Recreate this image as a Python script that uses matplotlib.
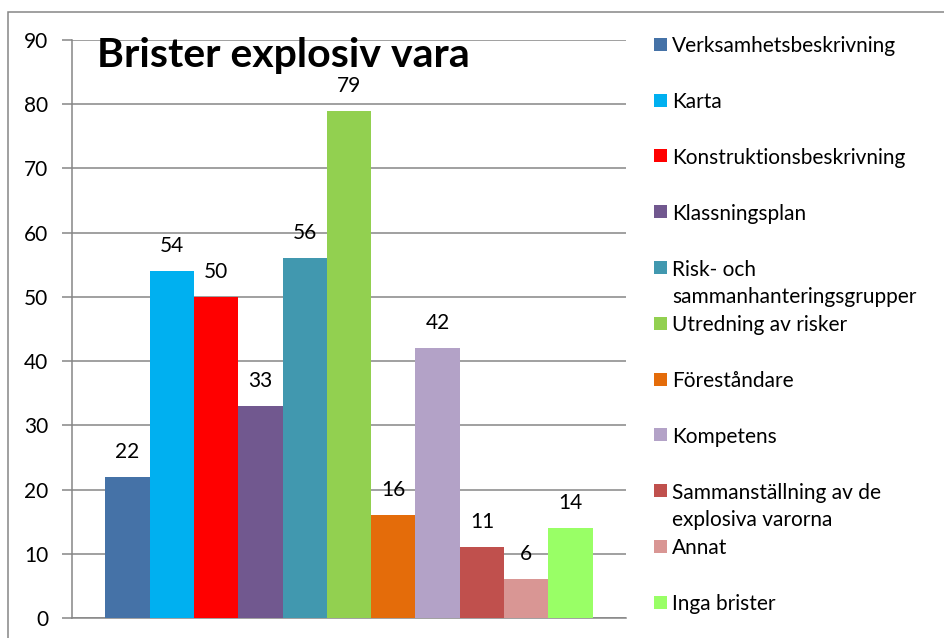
import matplotlib
matplotlib.use("Agg")
import matplotlib.pyplot as plt
from matplotlib.patches import Rectangle

categories = ["Verksamhetsbeskrivning", "Karta", "Konstruktionsbeskrivning",
              "Klassningsplan", "Risk- och\nsammanhanteringsgrupper",
              "Utredning av risker", "Föreståndare", "Kompetens",
              "Sammanställning av de\nexplosiva varorna", "Annat", "Inga brister"]
values = [22, 54, 50, 33, 56, 79, 16, 42, 11, 6, 14]
colors = ["#4572A7", "#00B0F0", "#FF0000", "#71588F", "#4198AF", "#92D050",
          "#E46C0A", "#B3A2C7", "#C0504D", "#D99694", "#99FF66"]
yticks = [0, 10, 20, 30, 40, 50, 60, 70, 80, 90]
title = "Brister explosiv vara"

plt.rcParams['font.family'] = ['Lato', 'DejaVu Sans']
W, H = 944, 638
fig = plt.figure(figsize=(W / 100, H / 100), dpi=100)
fig.patch.set_facecolor("white")

# outer chart border (top/left visible)
fig.patches.append(Rectangle((8 / W, -0.1), 1.2, 1.1 - 12 / H, transform=fig.transFigure,
                             fill=False, edgecolor="#868686", lw=1.1))

ax = fig.add_axes([72 / W, 20 / H, (626 - 72) / W, (618 - 40) / H])
n = len(values)
bw = 1.0 / (n + 1.5)
for i, (v, c) in enumerate(zip(values, colors)):
    x = -0.5 + 0.75 * bw + (i + 0.5) * bw
    ax.bar(x, v, width=bw, color=c, zorder=3)
    ax.annotate(str(v), (x, v), xytext=(0, 18), textcoords="offset points",
                ha="center", va="center", fontsize=15, color="black", zorder=4)

ax.set_xlim(-0.5, 0.5)
ax.set_ylim(0, 90)
ax.set_yticks(yticks)
ax.set_xticks([])
ax.yaxis.grid(True, color="#868686", lw=1.1, zorder=0)
for s in ["top", "right"]:
    ax.spines[s].set_visible(False)
ax.spines["left"].set_color("#868686")
ax.spines["bottom"].set_color("#868686")
ax.spines["left"].set_linewidth(1.1)
ax.spines["bottom"].set_linewidth(1.1)
ax.tick_params(axis="y", length=7, width=1.1, color="#868686", pad=10, labelsize=15)
ax.set_facecolor("white")

fig.text(97 / W, 1 - 56 / H, title, fontsize=29.5, fontweight="bold", va="center", ha="left")

# legend
y0 = 44.3
step = 55.8
for i, (lab, c) in enumerate(zip(categories, colors)):
    yc = y0 + i * step
    fig.patches.append(Rectangle((654 / W, 1 - (yc + 6.5) / H), 13 / W, 13 / H,
                                 transform=fig.transFigure, facecolor=c, edgecolor="none"))
    for j, ln in enumerate(lab.split("\n")):
        fig.text(672 / W, 1 - (yc + j * 27) / H, ln, fontsize=15, va="center_baseline", ha="left")

fig.savefig("out.png", dpi=100, facecolor="white")
